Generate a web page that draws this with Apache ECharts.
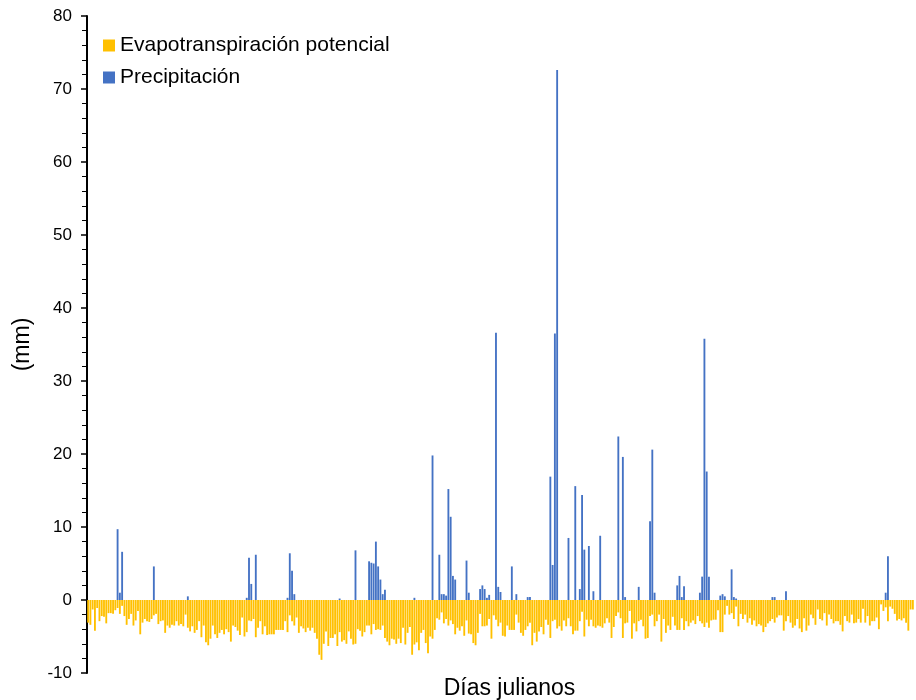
<!DOCTYPE html>
<html>
<head>
<meta charset="utf-8">
<script src="https://cdn.jsdelivr.net/npm/echarts@6/dist/echarts.min.js"></script>
<style>
html,body{margin:0;padding:0;background:#fff;}
#chart{width:916px;height:700px;}
</style>
</head>
<body>
<div id="chart"></div>
<script>
// Julian days 1..365 (category labels)
const days = Array.from({length: 365}, (_, i) => String(i + 1));

// Potential evapotranspiration (mm, drawn negative), one value per day
const evapotranspiracion = [
-3.1,-3.4,-1.3,-4.2,-1.1,-2.9,-2.2,-2.3,-3.2,-1.8,
-1.8,-1.9,-1.4,-1.1,-1.9,-0.8,-2.2,-3.4,-2.6,-1.9,
-3.5,-2.8,-1.5,-4.7,-3.1,-2.6,-2.9,-3.0,-2.6,-2.1,
-1.9,-3.3,-2.9,-2.8,-4.5,-3.5,-3.8,-3.4,-3.5,-2.9,
-3.5,-3.3,-3.6,-2.0,-3.8,-4.3,-3.6,-4.5,-4.1,-2.9,
-5.1,-3.5,-5.8,-6.2,-5.3,-3.5,-4.7,-5.2,-4.5,-4.1,
-4.7,
-4.0,-4.4,-5.7,-3.5,-3.7,-4.2,-4.8,-2.4,-5.0,-4.4,
-2.8,-2.9,-2.6,-5.1,-3.8,-2.9,-4.7,-3.6,-4.8,-4.7,
-4.7,-4.7,-4.1,-4.1,-4.1,-4.1,-2.9,-4.4,-2.1,-2.9,
-3.5,-2.4,-4.5,-3.6,-3.9,-4.4,-3.8,-4.2,-3.8,-4.5,
-5.3,-7.5,-8.2,-6.0,-4.3,-6.3,-5.2,-5.2,-4.7,-6.3,
-4.4,-5.7,-5.5,-6.0,-4.3,-5.3,-6.1,-6.0,-4.0,-4.2,
-5.0,
-4.4,-3.5,-3.5,-4.7,-3.3,-4.1,-4.0,-4.1,-3.5,-5.2,
-5.7,-6.2,-5.3,-5.4,-6.0,-5.3,-5.9,-3.8,-6.1,-4.5,
-3.7,-7.5,-6.1,-5.8,-6.9,-4.5,-4.1,-5.9,-7.3,-5.0,
-5.3,-4.1,-2.5,-2.7,-1.7,-3.2,-2.6,-3.5,-2.8,-3.3,
-4.7,-3.8,-4.2,-3.6,-4.9,-2.8,-4.6,-4.7,-5.9,-6.2,
-4.5,-1.9,-3.6,-3.6,-3.5,-2.6,-5.3,-2.1,-2.7,-3.6,
-3.1,-4.9,
-5.0,-3.5,-4.1,-4.1,-4.1,-2.0,-3.1,-4.5,-4.9,-4.1,
-3.6,-3.1,-6.2,-4.5,-5.7,-4.3,-3.7,-4.7,-2.7,-3.4,
-5.2,-2.9,-2.7,-3.9,-3.6,-4.2,-2.8,-3.6,-2.5,-3.6,
-4.7,-4.2,-4.2,-2.9,-1.6,-5.0,-2.7,-3.6,-2.7,-3.6,
-3.8,-3.5,-3.6,-3.8,-3.2,-2.5,-3.1,-5.2,-3.7,-2.2,
-1.7,-2.5,-5.2,-3.2,-3.1,-1.5,-5.3,-3.2,-4.3,-2.9,
-2.7,-3.6,-5.3,
-5.2,-2.2,-2.0,-3.6,-2.9,-2.0,-5.7,-2.6,-4.5,-3.5,
-4.1,-2.3,-3.5,-4.1,-4.1,-2.5,-4.1,-2.9,-3.6,-3.1,
-2.8,-3.3,-2.2,-2.9,-3.2,-3.7,-3.1,-3.8,-2.8,-2.7,
-2.7,-1.4,-4.4,-4.4,-2.0,-0.8,-2.0,-1.8,-2.6,-0.9,
-3.6,-1.9,-2.6,-2.0,-3.1,-2.5,-3.4,-2.8,-3.6,-3.3,
-3.5,-4.4,-3.7,-3.2,-2.9,-2.6,-3.1,-2.4,-2.1,-2.1,
-4.2,
-2.9,-2.2,-3.1,-3.8,-3.5,-2.6,-3.9,-4.4,-2.5,-4.2,
-3.5,-2.0,-2.5,-3.4,-1.3,-2.6,-2.8,-1.8,-3.5,-2.0,
-2.6,-3.2,-2.9,-2.9,-3.4,-4.3,-2.2,-2.9,-3.1,-2.0,
-3.2,-3.1,-2.6,-3.1,-1.2,-3.1,-2.2,-3.5,-2.9,-2.9,
-2.4,-4.0,-0.6,-1.5,-1.0,-2.9,-0.9,-1.2,-1.9,-2.8,
-2.6,-2.8,-2.5,-3.1,-4.2,-1.3,-1.3
];

// Precipitation: rainy julian days and their amounts (mm)
const precipDias = [
14,15,16,30,45,
71,72,73,75,89,90,91,92,112,119,
125,126,127,128,129,130,131,132,145,153,156,157,158,159,160,161,162,163,168,169,174,175,176,177,178,181,182,183,
188,190,195,196,205,206,207,208,213,216,218,219,220,222,224,227,235,237,238,244,
249,250,251,261,262,263,264,271,272,273,274,275,280,281,282,285,286,287,303,304,309,353,354
];
const precipValores = [
9.7,1.0,6.6,4.6,0.5,
0.3,5.8,2.2,6.2,0.3,6.4,4.0,0.8,0.2,6.8,
5.3,5.1,5.0,8.0,4.6,2.8,0.8,1.4,0.3,19.8,6.2,0.8,0.8,0.6,15.2,11.4,3.3,2.8,5.4,1.0,1.5,2.0,1.5,0.3,0.7,36.6,1.8,1.1,
4.6,0.8,0.4,0.4,16.9,4.8,36.5,72.6,8.5,15.6,1.5,14.4,6.9,7.4,1.2,8.8,22.4,19.6,0.4,1.8,
10.8,20.6,1.0,2.0,3.3,0.4,1.9,1.0,3.2,35.8,17.6,3.2,0.6,0.8,0.5,4.2,0.4,0.2,0.4,0.4,1.2,1.0,6.0
];

const yTicks = { min: -10, max: 80, interval: 10 };

const precipData = precipDias.map((d, i) => [String(d), precipValores[i]]);

const chart = echarts.init(document.getElementById('chart'), null, { renderer: 'canvas' });
const FONT = '"Liberation Sans", Arial, sans-serif';
chart.setOption({
  animation: false,
  backgroundColor: '#ffffff',
  textStyle: { fontFamily: FONT },
  legend: {
    orient: 'vertical',
    left: 98,
    top: 30,
    itemWidth: 12,
    itemHeight: 12,
    itemGap: 11,
    icon: 'rect',
    textStyle: { fontSize: 21, color: '#000', fontFamily: FONT },
    data: ['Evapotranspiración potencial', 'Precipitación']
  },
  grid: { left: 87, right: 2, top: 16, bottom: 27, containLabel: false, outerBoundsMode: 'none' },
  xAxis: {
    type: 'category',
    data: days,
    name: 'Días julianos',
    nameLocation: 'middle',
    nameGap: 4,
    nameTextStyle: { fontSize: 23, color: '#000', fontFamily: FONT, padding: [0, 0, 0, 18], verticalAlign: 'top' },
    axisLine: { show: false, onZero: false },
    axisTick: { show: false },
    axisLabel: { show: false },
    splitLine: { show: false }
  },
  yAxis: {
    type: 'value',
    min: yTicks.min,
    max: yTicks.max,
    interval: yTicks.interval,
    name: '(mm)',
    nameLocation: 'middle',
    nameGap: 53,
    nameRotate: 90,
    nameTextStyle: { fontSize: 23, color: '#000', fontFamily: FONT },
    axisLine: { show: true, lineStyle: { color: '#000', width: 2 } },
    axisTick: { show: true, length: 6, lineStyle: { color: '#000', width: 1.5 } },
    minorTick: { show: true, splitNumber: 5, length: 5, lineStyle: { color: '#000', width: 1 } },
    axisLabel: { fontSize: 17, color: '#000', fontFamily: FONT, margin: 15 },
    splitLine: { show: false }
  },
  series: [
    {
      name: 'Evapotranspiración potencial',
      type: 'bar',
      data: evapotranspiracion,
      itemStyle: { color: '#FFC000' },
      barGap: '-100%',
      barCategoryGap: '18%'
    },
    {
      name: 'Precipitación',
      type: 'bar',
      data: precipData,
      itemStyle: { color: '#4472C4' },
      barGap: '-100%',
      barCategoryGap: '18%'
    }
  ]
});
</script>
</body>
</html>
